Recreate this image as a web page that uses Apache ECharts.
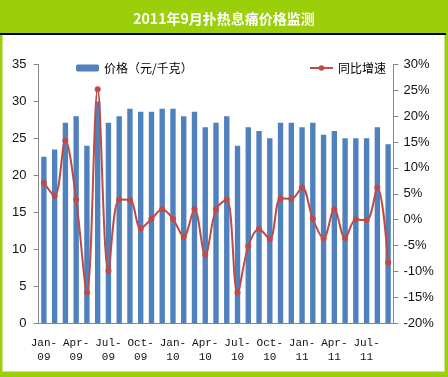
<!DOCTYPE html>
<html>
<head>
<meta charset="utf-8">
<script src="https://cdn.jsdelivr.net/npm/echarts@6/dist/echarts.min.js"></script>
<style>
html,body{margin:0;padding:0;background:#fff;}
#c{width:448px;height:377px;}
</style>
</head>
<body>
<div id="c"></div>
<script>
const months = ['Jan-09','Feb-09','Mar-09','Apr-09','May-09','Jun-09','Jul-09','Aug-09','Sep-09','Oct-09','Nov-09','Dec-09',
  'Jan-10','Feb-10','Mar-10','Apr-10','May-10','Jun-10','Jul-10','Aug-10','Sep-10','Oct-10','Nov-10','Dec-10',
  'Jan-11','Feb-11','Mar-11','Apr-11','May-11','Jun-11','Jul-11','Aug-11','Sep-11'];
const price = [22.5,23.5,27.1,28.0,24.0,30.0,27.1,28.0,29.0,28.6,28.6,29.0,
  29.0,28.0,28.6,26.5,27.1,28.0,24.0,26.5,26.0,25.0,27.1,27.1,
  26.5,27.1,25.5,26.0,25.0,25.0,25.0,26.5,24.2];
const yoy = [7.1,4.6,15.3,3.9,-14.1,25.2,-9.9,3.9,3.8,-1.7,0.1,2.0,
  0.1,-3.3,2.0,-6.8,2.0,3.9,-14.1,-5.2,-1.8,-3.8,4.1,4.0,
  6.2,0.1,-3.6,2.0,-3.6,0.0,-0.1,6.2,-8.3];
const leftTicks = {min:0, max:35, interval:5};
const rightTicks = {min:-20, max:30, interval:5};
const titleText = '2011年9月扑热息痛价格监测';
const seriesNames = ['价格（元/千克）','同比增速'];

const GREEN = '#9BCF0A';
const BLUE = '#4F81BD';
const RED = '#BE4B48';
const AXIS = '#868686';
const numFont = '"Liberation Sans Narrow","Liberation Sans",sans-serif';

const chart = echarts.init(document.getElementById('c'), null, {renderer:'canvas'});
chart.setOption({
  animation:false,
  backgroundColor:GREEN,
  graphic:[
    {type:'rect', z:-10, shape:{x:0,y:33,width:446,height:2}, style:{fill:'#000'}},
    {type:'rect', z:-10, shape:{x:2.5,y:35,width:442,height:336.5}, style:{fill:'#fff'}}
  ],
  title:{
    text:titleText, left:'center', top:7,
    textStyle:{color:'#fff', fontSize:14, fontWeight:'bold', fontFamily:'"Noto Sans CJK SC",sans-serif'}
  },
  legend:[
    {data:[seriesNames[0]], left:71, top:57, itemWidth:23, itemHeight:7, itemGap:5,
     textStyle:{fontSize:12, color:'#000', fontFamily:'"Noto Sans CJK SC",sans-serif'}},
    {data:[seriesNames[1]], left:304, top:57, itemWidth:23, itemHeight:7,
     textStyle:{fontSize:12, color:'#000', fontFamily:'"Noto Sans CJK SC",sans-serif'}}
  ],
  grid:{left:38.5, right:54.5, top:64.5, bottom:54, containLabel:false},
  xAxis:{
    type:'category', data:months, boundaryGap:true,
    axisLine:{lineStyle:{color:AXIS, width:1}},
    axisTick:{interval:2, length:5, lineStyle:{color:AXIS}},
    axisLabel:{interval:2, margin:13, fontSize:11, lineHeight:14, color:'#111',
      fontFamily:'"Liberation Mono",monospace',
      formatter:function(v){const p=v.split('-');return p[0]+'-\n'+p[1];}},
    splitLine:{show:false}
  },
  yAxis:[
    {type:'value', min:leftTicks.min, max:leftTicks.max, interval:leftTicks.interval,
     axisLine:{show:true, lineStyle:{color:AXIS}},
     axisTick:{show:true, length:5, lineStyle:{color:AXIS}},
     axisLabel:{margin:12, fontSize:13, color:'#111', fontFamily:numFont},
     splitLine:{show:false}},
    {type:'value', position:'right', min:rightTicks.min, max:rightTicks.max, interval:rightTicks.interval,
     axisLine:{show:true, lineStyle:{color:AXIS}},
     axisTick:{show:true, length:5, lineStyle:{color:AXIS}},
     axisLabel:{margin:10, fontSize:13, color:'#111', fontFamily:numFont,
       formatter:function(v){return v+'%';}},
     splitLine:{show:false}}
  ],
  series:[
    {name:seriesNames[0], type:'bar', data:price, barWidth:'50%', itemStyle:{color:BLUE}, yAxisIndex:0},
    {name:seriesNames[1], type:'line', data:yoy, yAxisIndex:1, smooth:0.35,
     symbol:'circle', symbolSize:6, lineStyle:{color:RED, width:2}, itemStyle:{color:RED}}
  ]
});
</script>
</body>
</html>
